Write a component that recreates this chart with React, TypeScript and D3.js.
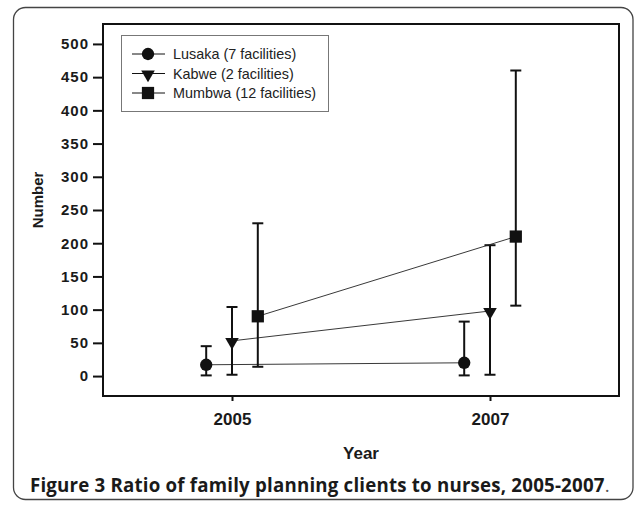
import React, { useRef, useEffect } from 'react';
import * as d3 from 'd3';

const YEARS = [2005, 2007];
const SERIES = ['Lusaka (7 facilities)', 'Kabwe (2 facilities)', 'Mumbwa (12 facilities)'];
const SYMBOLS = ['circle', 'triangle', 'square'];
const OFFSETS = [-0.2, 0, 0.2]; // horizontal dodge in years
const MEANS = [
  [17, 20],
  [53, 98],
  [90, 210],
];
const LOWS = [
  [1, 1],
  [2, 2],
  [14, 106],
];
const HIGHS = [
  [45, 82],
  [104, 197],
  [230, 460],
];
const Y_TICKS = [0, 50, 100, 150, 200, 250, 300, 350, 400, 450, 500];

const FONT = 'Arial, "Liberation Sans", sans-serif';

export default function App() {
  const ref = useRef<SVGSVGElement | null>(null);

  useEffect(() => {
    const svg = d3.select(ref.current);
    svg.selectAll('*').remove();

    const left = 103, right = 619, top = 24, bottom = 396;

    // outer rounded frame
    svg.append('rect')
      .attr('x', 13.5).attr('y', 7.5)
      .attr('width', 619.5).attr('height', 492)
      .attr('rx', 12).attr('ry', 12)
      .attr('fill', 'none')
      .attr('stroke', '#444')
      .attr('stroke-width', 1.3);

    const x = d3.scaleLinear().domain([2004, 2008]).range([left, right]);
    const y = d3.scaleLinear().domain([-30, 530]).range([bottom, top]);

    const g = svg.append('g');

    // plot frame
    g.append('rect')
      .attr('x', left).attr('y', top)
      .attr('width', right - left).attr('height', bottom - top)
      .attr('fill', 'none')
      .attr('stroke', '#111')
      .attr('stroke-width', 2);

    // y axis
    g.append('g')
      .attr('transform', `translate(${left},0)`)
      .call(d3.axisLeft(y).tickValues(Y_TICKS).tickSize(10).tickPadding(4).tickFormat(d3.format('d')))
      .call(ax => ax.select('.domain').remove())
      .call(ax => ax.selectAll('.tick line').attr('stroke', '#111').attr('stroke-width', 2))
      .call(ax => ax.selectAll('.tick text')
        .attr('fill', '#1a1a1a')
        .attr('font-size', '15px')
        .attr('letter-spacing', '1px')
        .attr('font-weight', 'bold')
        .attr('font-family', FONT));

    // x axis
    g.append('g')
      .attr('transform', `translate(0,${bottom})`)
      .call(d3.axisBottom(x).tickValues(YEARS).tickSize(5).tickPadding(12).tickFormat(d3.format('d')))
      .call(ax => ax.select('.domain').remove())
      .call(ax => ax.selectAll('.tick line').attr('stroke', '#111').attr('stroke-width', 2))
      .call(ax => ax.selectAll('.tick text')
        .attr('fill', '#1a1a1a')
        .attr('font-size', '17px')
        .attr('font-weight', 'bold')
        .attr('font-family', FONT));

    g.append('text')
      .attr('x', 361)
      .attr('y', 459)
      .attr('text-anchor', 'middle')
      .attr('font-size', '17px')
      .attr('font-weight', 'bold')
      .attr('font-family', FONT)
      .attr('fill', '#1a1a1a')
      .text('Year');

    g.append('text')
      .attr('transform', 'rotate(-90)')
      .attr('x', -200)
      .attr('y', 43)
      .attr('text-anchor', 'middle')
      .attr('font-size', '15px')
      .attr('font-weight', 'bold')
      .attr('font-family', FONT)
      .attr('fill', '#1a1a1a')
      .text('Number');

    const symbolType = (s: string) =>
      s === 'circle' ? d3.symbolCircle : s === 'square' ? d3.symbolSquare : d3.symbolTriangle;
    const symbolSize = (s: string) => (s === 'circle' ? 120 : s === 'square' ? 150 : 80);
    const symbolRot = (s: string) => (s === 'triangle' ? 180 : 0);

    SERIES.forEach((name, si) => {
      const off = OFFSETS[si];
      // connecting line between the two years
      g.append('path')
        .datum(MEANS[si])
        .attr('d', d3.line<number>().x((_, i) => x(YEARS[i] + off)).y(d => y(d)))
        .attr('fill', 'none')
        .attr('stroke', '#222')
        .attr('stroke-width', 0.9);

      YEARS.forEach((yr, i) => {
        const cx = x(yr + off);
        const capW = 5.5;
        g.append('line')
          .attr('x1', cx).attr('x2', cx)
          .attr('y1', y(LOWS[si][i])).attr('y2', y(HIGHS[si][i]))
          .attr('stroke', '#111').attr('stroke-width', 2);
        [LOWS[si][i], HIGHS[si][i]].forEach(v => {
          g.append('line')
            .attr('x1', cx - capW).attr('x2', cx + capW)
            .attr('y1', y(v)).attr('y2', y(v))
            .attr('stroke', '#111').attr('stroke-width', 2);
        });
        const sym = SYMBOLS[si];
        g.append('path')
          .attr('d', d3.symbol().type(symbolType(sym)).size(symbolSize(sym))())
          .attr('transform', `translate(${cx},${y(MEANS[si][i]) + (sym === 'triangle' ? 1 : 0)}) rotate(${symbolRot(sym)})`)
          .attr('fill', '#111');
      });
    });

    // legend
    const lg = g.append('g');
    lg.append('rect')
      .attr('x', 121.5).attr('y', 35.5)
      .attr('width', 207).attr('height', 76)
      .attr('fill', '#fff')
      .attr('stroke', '#777')
      .attr('stroke-width', 1);
    SERIES.forEach((name, si) => {
      const ly = 54 + si * 19.5;
      lg.append('line')
        .attr('x1', 132).attr('x2', 165)
        .attr('y1', ly).attr('y2', ly)
        .attr('stroke', '#111').attr('stroke-width', 1);
      const sym = SYMBOLS[si];
      lg.append('path')
        .attr('d', d3.symbol().type(symbolType(sym)).size(symbolSize(sym))())
        .attr('transform', `translate(148,${ly + (sym === 'triangle' ? 1 : 0)}) rotate(${symbolRot(sym)})`)
        .attr('fill', '#111');
      lg.append('text')
        .attr('x', 173)
        .attr('y', ly + 5)
        .attr('font-size', '14.4px')
        .attr('font-family', FONT)
        .attr('fill', '#222')
        .text(name);
    });

    // caption
    const cap = svg.append('text')
      .attr('x', 30)
      .attr('y', 492)
      .attr('font-size', '18.7px')
      .attr('letter-spacing', '0.2px')
      .attr('font-family', '"Open Sans", "Noto Sans", sans-serif')
      .attr('fill', '#1a1a1a');
    cap.append('tspan').attr('font-weight', 'bold')
      .text('Figure 3 Ratio of family planning clients to nurses, 2005-2007');
    cap.append('tspan').attr('fill', '#555').text('.');
  }, []);

  return (
    <div style={{ position: 'absolute', left: 0, top: 0 }}>
      <svg ref={ref} width={634} height={505} style={{ display: 'block', background: '#fff' }} />
    </div>
  );
}
